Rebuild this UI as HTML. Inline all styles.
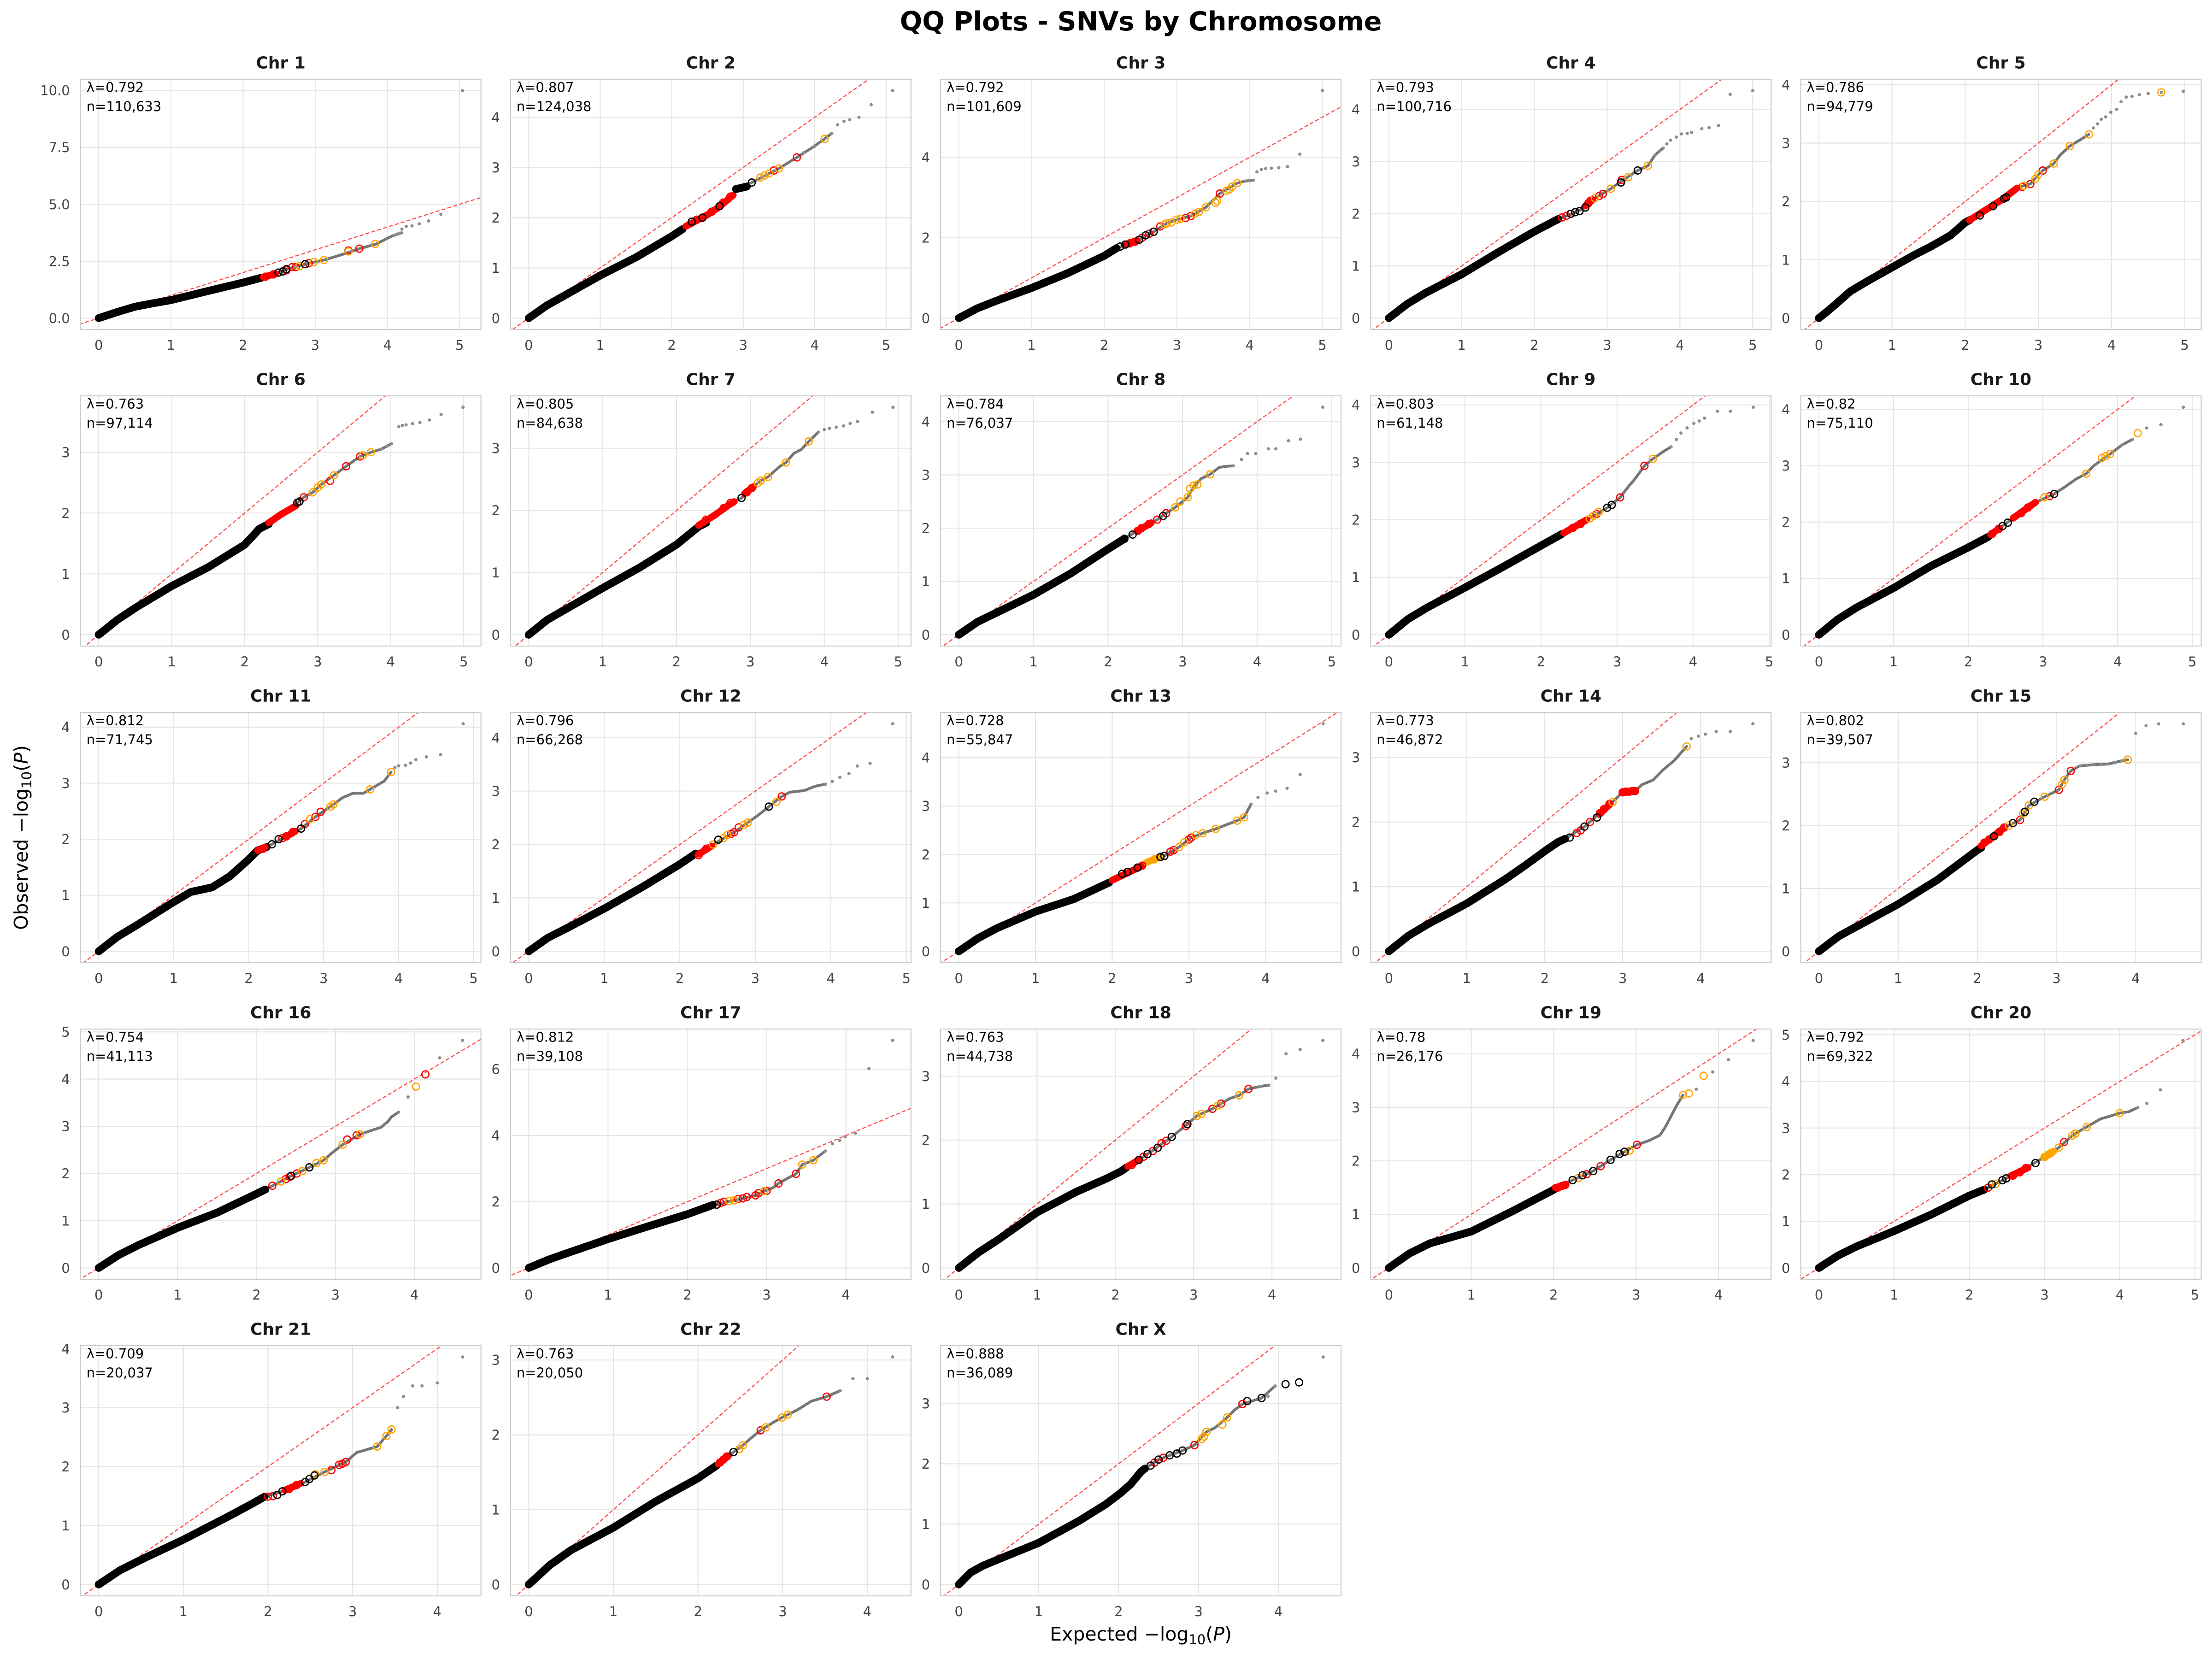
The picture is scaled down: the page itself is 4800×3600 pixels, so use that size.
<!DOCTYPE html>
<html><head><meta charset="utf-8"><style>
html,body{margin:0;padding:0;background:#fff}
svg{display:block}
text{font-family:"DejaVu Sans","Liberation Sans",sans-serif}
.t{font-size:36px;font-weight:bold;fill:#1a1a1a;text-anchor:middle}
.l{font-size:29px;fill:#000}
.xt{font-size:29px;fill:#444;text-anchor:middle}
.yt{font-size:29px;fill:#444;text-anchor:end}
.gl{stroke:#e6e6e6;stroke-width:2.2;fill:none}
.sp{fill:none;stroke:#cccccc;stroke-width:2.2}
.dg{stroke:#ff4d4d;stroke-width:2.4;stroke-dasharray:8.5 4.8;fill:none}
.b{fill:none;stroke:#000;stroke-width:17px;stroke-linecap:round;stroke-linejoin:round;vector-effect:non-scaling-stroke}
.rb{fill:none;stroke:#f00;stroke-width:15px;stroke-linecap:round;stroke-linejoin:round;vector-effect:non-scaling-stroke}
.ob{fill:none;stroke:#ffa500;stroke-width:15px;stroke-linecap:round;stroke-linejoin:round;vector-effect:non-scaling-stroke}
.gp{fill:none;stroke:#767676;stroke-width:6px;stroke-linecap:round;stroke-linejoin:round;vector-effect:non-scaling-stroke}
.gd{fill:none;stroke:#8e8e8e;stroke-width:7px;stroke-linecap:round;vector-effect:non-scaling-stroke}
ellipse{fill:none;stroke-width:2.7px;vector-effect:non-scaling-stroke}
.R{stroke:#f00}.O{stroke:#ffa500}.K{stroke:#000}
</style></head><body>
<svg width="4800" height="3600" viewBox="0 0 4800 3600" xmlns="http://www.w3.org/2000/svg" xmlns:xlink="http://www.w3.org/1999/xlink">
<defs>
<clipPath id="ax"><rect x="0" y="0" width="869" height="543"/></clipPath>
<ellipse id="r1" rx=".0492" ry=".1558"/>
<ellipse id="r2" rx=".0496" ry=".0707"/>
<ellipse id="r3" rx=".0488" ry=".0883"/>
<ellipse id="r4" rx=".0488" ry=".0680"/>
<ellipse id="r5" rx=".0485" ry=".0608"/>
<ellipse id="r6" rx=".0486" ry=".0583"/>
<ellipse id="r7" rx=".0480" ry=".0571"/>
<ellipse id="r8" rx=".0476" ry=".0666"/>
<ellipse id="r9" rx=".0467" ry=".0618"/>
<ellipse id="r10" rx=".0475" ry=".0630"/>
<ellipse id="r11" rx=".0473" ry=".0633"/>
<ellipse id="r12" rx=".0470" ry=".0664"/>
<ellipse id="r13" rx=".0463" ry=".0733"/>
<ellipse id="r14" rx=".0455" ry=".0549"/>
<ellipse id="r15" rx=".0448" ry=".0565"/>
<ellipse id="r16" rx=".0450" ry=".0752"/>
<ellipse id="r17" rx=".0448" ry=".1072"/>
<ellipse id="r18" rx=".0453" ry=".0555"/>
<ellipse id="r19" rx=".0431" ry=".0663"/>
<ellipse id="r20" rx=".0472" ry=".0761"/>
<ellipse id="r21" rx=".0419" ry=".0602"/>
<ellipse id="r22" rx=".0419" ry=".0474"/>
<ellipse id="r23" rx=".0444" ry=".0588"/>
</defs>
<rect width="4800" height="3600" fill="#fff"/>

<text x="2475.6" y="66" font-size="57" font-weight="bold" text-anchor="middle" fill="#000">QQ Plots - SNVs by Chromosome</text>
<text transform="translate(60,1817.5) rotate(-90)" font-size="41" text-anchor="middle" fill="#000">Observed −log<tspan font-size="29" dy="8">10</tspan><tspan dy="-8">(</tspan><tspan font-style="italic">P</tspan>)</text>
<text x="2475.6" y="3560" font-size="41" text-anchor="middle" fill="#000">Expected −log<tspan font-size="29" dy="8">10</tspan><tspan dy="-8">(</tspan><tspan font-style="italic">P</tspan>)</text>

<!-- Chr 1 -->
<g transform="translate(174.7,172)">
<path class="gl" d="M39.5 0V543M196.1 0V543M352.7 0V543M509.4 0V543M666 0V543M822.6 0V543M0 518.3H869M0 394.8H869M0 271.3H869M0 147.7H869M0 24.2H869"/>
<g clip-path="url(#ax)">
<line class="dg" x1="-117.1" y1="567.7" x2="1918.9" y2="-74.6"/>
<g transform="translate(39.5 518.32) scale(156.62 -49.41)">
<polyline class="gp" points="2.26,1.78 2.5,2.02 2.7,2.24 2.9,2.4 3.12,2.55 3.44,2.86 3.61,3.05 3.84,3.25 4.06,3.6 4.2,3.75"/>
<polyline class="b" points="0,0 0.25,0.26 0.5,0.5 0.75,0.65 1,0.79 1.5,1.18 2,1.56 2.26,1.78"/>
<polyline class="rb" points="2.28,1.8 2.45,1.95"/>
<path class="gd" d="M4.1 3.65h.001M4.14 3.7h.001M4.18 3.73h.001M4.2 3.91h.001M4.26 4.03h.001M4.34 4.05h.001M4.44 4.14h.001M4.57 4.27h.001M4.74 4.56h.001M5.04 9.99h.001"/>
<g class="R"><use href="#r1" x="2.31" y="1.82"/><use href="#r1" x="2.42" y="1.92"/><use href="#r1" x="2.6" y="2.1"/><use href="#r1" x="2.68" y="2.24"/><use href="#r1" x="2.73" y="2.24"/><use href="#r1" x="2.91" y="2.41"/><use href="#r1" x="3.46" y="2.97"/><use href="#r1" x="3.61" y="3.05"/></g>
<g class="O"><use href="#r1" x="2.78" y="2.28"/><use href="#r1" x="2.98" y="2.46"/><use href="#r1" x="3.12" y="2.55"/><use href="#r1" x="3.46" y="2.93"/><use href="#r1" x="3.83" y="3.26"/></g>
<g class="K"><use href="#r1" x="2.49" y="2.0"/><use href="#r1" x="2.55" y="2.05"/><use href="#r1" x="2.6" y="2.15"/><use href="#r1" x="2.86" y="2.37"/></g>
</g></g>
<rect class="sp" width="869" height="543"/>
<text class="t" x="434.5" y="-23.5">Chr 1</text>
<text class="l" x="13" y="27.5">λ=0.792</text><text class="l" x="13" y="69">n=110,633</text>
<text class="xt" y="587"><tspan x="39.5">0</tspan><tspan x="196.1">1</tspan><tspan x="352.7">2</tspan><tspan x="509.4">3</tspan><tspan x="666">4</tspan><tspan x="822.6">5</tspan></text>
<text class="yt"><tspan x="-23" y="528.8">0.0</tspan><tspan x="-23" y="405.3">2.5</tspan><tspan x="-23" y="281.8">5.0</tspan><tspan x="-23" y="158.2">7.5</tspan><tspan x="-23" y="34.7">10.0</tspan></text>
</g>

<!-- Chr 2 -->
<g transform="translate(1107.9,172)">
<path class="gl" d="M39.5 0V543M194.6 0V543M349.7 0V543M504.8 0V543M659.9 0V543M815 0V543M0 518.3H869M0 409.4H869M0 300.4H869M0 191.4H869M0 82.4H869"/>
<g clip-path="url(#ax)">
<line class="dg" x1="-115.6" y1="627.3" x2="1900.7" y2="-789.3"/>
<g transform="translate(39.5 518.32) scale(155.10 -108.97)">
<polyline class="gp" points="2.15,1.77 2.43,2.0 2.67,2.23 2.82,2.42 2.95,2.6 3.12,2.7 3.5,2.98 3.75,3.2 3.95,3.38 4.14,3.57 4.24,3.68"/>
<polyline class="b" points="0,0 0.25,0.25 0.5,0.45 1,0.85 1.5,1.21 2,1.63 2.15,1.77"/>
<polyline class="rb" points="2.2,1.83 2.5,2.06 2.65,2.2 2.86,2.45"/>
<polyline class="b" points="2.9,2.57 3.05,2.62"/>
<path class="gd" d="M3.85 3.3h.001M4.0 3.42h.001M4.24 3.68h.001M4.32 3.85h.001M4.41 3.92h.001M4.49 3.95h.001M4.62 4.0h.001M4.79 4.25h.001M5.09 4.53h.001"/>
<g class="R"><use href="#r2" x="2.35" y="1.96"/><use href="#r2" x="2.56" y="2.12"/><use href="#r2" x="2.72" y="2.3"/><use href="#r2" x="2.82" y="2.42"/><use href="#r2" x="3.43" y="2.94"/><use href="#r2" x="3.75" y="3.2"/></g>
<g class="O"><use href="#r2" x="3.24" y="2.8"/><use href="#r2" x="3.3" y="2.84"/><use href="#r2" x="3.36" y="2.88"/><use href="#r2" x="3.5" y="2.98"/><use href="#r2" x="4.14" y="3.57"/></g>
<g class="K"><use href="#r2" x="2.28" y="1.92"/><use href="#r2" x="2.43" y="2.0"/><use href="#r2" x="2.67" y="2.23"/><use href="#r2" x="3.12" y="2.7"/></g>
</g></g>
<rect class="sp" width="869" height="543"/>
<text class="t" x="434.5" y="-23.5">Chr 2</text>
<text class="l" x="13" y="27.5">λ=0.807</text><text class="l" x="13" y="69">n=124,038</text>
<text class="xt" y="587"><tspan x="39.5">0</tspan><tspan x="194.6">1</tspan><tspan x="349.7">2</tspan><tspan x="504.8">3</tspan><tspan x="659.9">4</tspan><tspan x="815">5</tspan></text>
<text class="yt"><tspan x="-23" y="528.8">0</tspan><tspan x="-23" y="419.9">1</tspan><tspan x="-23" y="310.9">2</tspan><tspan x="-23" y="201.9">3</tspan><tspan x="-23" y="92.9">4</tspan></text>
</g>

<!-- Chr 3 -->
<g transform="translate(2041.1,172)">
<path class="gl" d="M39.5 0V543M197.3 0V543M355.1 0V543M512.8 0V543M670.6 0V543M828.4 0V543M0 518.3H869M0 343.9H869M0 169.4H869"/>
<g clip-path="url(#ax)">
<line class="dg" x1="-118.3" y1="605.5" x2="1932.9" y2="-528.3"/>
<g transform="translate(39.5 518.32) scale(157.78 -87.22)">
<polyline class="gp" points="2.17,1.74 2.42,1.9 2.68,2.15 2.86,2.36 3.0,2.45 3.19,2.54 3.4,2.76 3.59,3.1 3.83,3.36 3.94,3.41 4.05,3.43"/>
<polyline class="b" points="0,0 0.25,0.24 0.5,0.42 1,0.75 1.5,1.12 2,1.55 2.17,1.74"/>
<polyline class="rb" points="2.3,1.84 2.45,1.93"/>
<path class="gd" d="M3.94 3.41h.001M4.0 3.42h.001M4.05 3.43h.001M4.1 3.64h.001M4.16 3.7h.001M4.22 3.72h.001M4.3 3.73h.001M4.4 3.74h.001M4.52 3.77h.001M4.69 4.08h.001M5.0 5.66h.001"/>
<g class="R"><use href="#r3" x="2.35" y="1.86"/><use href="#r3" x="2.42" y="1.9"/><use href="#r3" x="2.52" y="2.0"/><use href="#r3" x="2.62" y="2.1"/><use href="#r3" x="2.77" y="2.28"/><use href="#r3" x="3.12" y="2.49"/><use href="#r3" x="3.19" y="2.54"/><use href="#r3" x="3.59" y="3.1"/></g>
<g class="O"><use href="#r3" x="2.83" y="2.33"/><use href="#r3" x="2.86" y="2.36"/><use href="#r3" x="2.92" y="2.38"/><use href="#r3" x="3.0" y="2.45"/><use href="#r3" x="3.05" y="2.47"/><use href="#r3" x="3.25" y="2.6"/><use href="#r3" x="3.3" y="2.64"/><use href="#r3" x="3.4" y="2.76"/><use href="#r3" x="3.53" y="2.87"/><use href="#r3" x="3.55" y="2.92"/><use href="#r3" x="3.68" y="3.17"/><use href="#r3" x="3.72" y="3.2"/><use href="#r3" x="3.76" y="3.27"/><use href="#r3" x="3.83" y="3.36"/></g>
<g class="K"><use href="#r3" x="2.22" y="1.78"/><use href="#r3" x="2.29" y="1.83"/><use href="#r3" x="2.48" y="1.95"/><use href="#r3" x="2.57" y="2.06"/><use href="#r3" x="2.68" y="2.15"/></g>
</g></g>
<rect class="sp" width="869" height="543"/>
<text class="t" x="434.5" y="-23.5">Chr 3</text>
<text class="l" x="13" y="27.5">λ=0.792</text><text class="l" x="13" y="69">n=101,609</text>
<text class="xt" y="587"><tspan x="39.5">0</tspan><tspan x="197.3">1</tspan><tspan x="355.1">2</tspan><tspan x="512.8">3</tspan><tspan x="670.6">4</tspan><tspan x="828.4">5</tspan></text>
<text class="yt"><tspan x="-23" y="528.8">0</tspan><tspan x="-23" y="354.4">2</tspan><tspan x="-23" y="179.9">4</tspan></text>
</g>

<!-- Chr 4 -->
<g transform="translate(2974.3,172)">
<path class="gl" d="M39.5 0V543M197.4 0V543M355.3 0V543M513.2 0V543M671.1 0V543M829 0V543M0 518.3H869M0 405.1H869M0 291.9H869M0 178.7H869M0 65.4H869"/>
<g clip-path="url(#ax)">
<line class="dg" x1="-118.4" y1="631.5" x2="1934.3" y2="-840.3"/>
<g transform="translate(39.5 518.32) scale(157.90 -113.22)">
<polyline class="gp" points="2.33,1.9 2.52,2.0 2.7,2.12 2.77,2.25 3.05,2.48 3.19,2.62 3.42,2.83 3.56,2.92 3.66,3.13 3.77,3.26"/>
<polyline class="b" points="0,0 0.25,0.27 0.5,0.48 1,0.84 1.5,1.26 2,1.66 2.33,1.9"/>
<polyline class="rb" points="2.7,2.15 2.8,2.27"/>
<path class="gd" d="M3.66 3.13h.001M3.72 3.2h.001M3.77 3.26h.001M3.82 3.34h.001M3.87 3.41h.001M3.95 3.47h.001M4.02 3.53h.001M4.1 3.54h.001M4.16 3.56h.001M4.3 3.63h.001M4.4 3.65h.001M4.53 3.69h.001M4.69 4.29h.001M5.0 4.36h.001"/>
<g class="R"><use href="#r4" x="2.38" y="1.93"/><use href="#r4" x="2.44" y="1.96"/><use href="#r4" x="2.74" y="2.2"/><use href="#r4" x="2.77" y="2.25"/><use href="#r4" x="2.89" y="2.34"/><use href="#r4" x="2.94" y="2.38"/><use href="#r4" x="3.2" y="2.65"/></g>
<g class="O"><use href="#r4" x="2.83" y="2.3"/><use href="#r4" x="3.05" y="2.48"/><use href="#r4" x="3.29" y="2.7"/><use href="#r4" x="3.56" y="2.92"/></g>
<g class="K"><use href="#r4" x="2.5" y="2.0"/><use href="#r4" x="2.56" y="2.03"/><use href="#r4" x="2.62" y="2.05"/><use href="#r4" x="2.7" y="2.12"/><use href="#r4" x="3.19" y="2.6"/><use href="#r4" x="3.42" y="2.83"/></g>
</g></g>
<rect class="sp" width="869" height="543"/>
<text class="t" x="434.5" y="-23.5">Chr 4</text>
<text class="l" x="13" y="27.5">λ=0.793</text><text class="l" x="13" y="69">n=100,716</text>
<text class="xt" y="587"><tspan x="39.5">0</tspan><tspan x="197.4">1</tspan><tspan x="355.3">2</tspan><tspan x="513.2">3</tspan><tspan x="671.1">4</tspan><tspan x="829">5</tspan></text>
<text class="yt"><tspan x="-23" y="528.8">0</tspan><tspan x="-23" y="415.6">1</tspan><tspan x="-23" y="302.4">2</tspan><tspan x="-23" y="189.2">3</tspan><tspan x="-23" y="75.9">4</tspan></text>
</g>

<!-- Chr 5 -->
<g transform="translate(3907.5,172)">
<path class="gl" d="M39.5 0V543M198.2 0V543M357 0V543M515.7 0V543M674.5 0V543M833.2 0V543M0 518.3H869M0 391.8H869M0 265.2H869M0 138.6H869M0 12H869"/>
<g clip-path="url(#ax)">
<line class="dg" x1="-119.2" y1="644.9" x2="1944.4" y2="-1000.5"/>
<g transform="translate(39.5 518.32) scale(158.74 -126.57)">
<polyline class="gp" points="2.06,1.68 2.71,2.24 2.89,2.3 3.0,2.46 3.06,2.53 3.21,2.65 3.3,2.8 3.43,2.95 3.55,3.04 3.69,3.15"/>
<polyline class="b" points="0,0 0.1,0.1 0.25,0.26 0.43,0.46 0.7,0.66 1,0.87 1.3,1.08 1.52,1.22 1.8,1.42 2,1.64 2.06,1.68"/>
<polyline class="rb" points="2.06,1.68 2.3,1.87 2.5,2.03 2.71,2.23"/>
<path class="gd" d="M3.75 3.26h.001M3.81 3.33h.001M3.86 3.41h.001M3.92 3.45h.001M3.99 3.53h.001M4.07 3.58h.001M4.13 3.71h.001M4.2 3.79h.001M4.28 3.8h.001M4.38 3.83h.001M4.5 3.85h.001M4.68 3.87h.001M4.98 3.89h.001"/>
<g class="R"><use href="#r5" x="2.78" y="2.25"/><use href="#r5" x="2.89" y="2.3"/><use href="#r5" x="3.06" y="2.53"/></g>
<g class="O"><use href="#r5" x="2.8" y="2.27"/><use href="#r5" x="2.96" y="2.39"/><use href="#r5" x="3.0" y="2.46"/><use href="#r5" x="3.21" y="2.65"/><use href="#r5" x="3.43" y="2.95"/><use href="#r5" x="3.69" y="3.15"/><use href="#r5" x="4.68" y="3.87"/></g>
<g class="K"><use href="#r5" x="2.2" y="1.76"/><use href="#r5" x="2.38" y="1.92"/><use href="#r5" x="2.53" y="2.05"/><use href="#r5" x="2.56" y="2.07"/></g>
</g></g>
<rect class="sp" width="869" height="543"/>
<text class="t" x="434.5" y="-23.5">Chr 5</text>
<text class="l" x="13" y="27.5">λ=0.786</text><text class="l" x="13" y="69">n=94,779</text>
<text class="xt" y="587"><tspan x="39.5">0</tspan><tspan x="198.2">1</tspan><tspan x="357">2</tspan><tspan x="515.7">3</tspan><tspan x="674.5">4</tspan><tspan x="833.2">5</tspan></text>
<text class="yt"><tspan x="-23" y="528.8">0</tspan><tspan x="-23" y="402.3">1</tspan><tspan x="-23" y="275.7">2</tspan><tspan x="-23" y="149.1">3</tspan><tspan x="-23" y="22.5">4</tspan></text>
</g>

<!-- Chr 6 -->
<g transform="translate(174.7,859)">
<path class="gl" d="M39.5 0V543M197.9 0V543M356.3 0V543M514.7 0V543M673.1 0V543M831.5 0V543M0 518.3H869M0 386.3H869M0 254.3H869M0 122.4H869"/>
<g clip-path="url(#ax)">
<line class="dg" x1="-118.9" y1="650.3" x2="1940.3" y2="-1065.6"/>
<g transform="translate(39.5 518.32) scale(158.40 -131.99)">
<polyline class="gp" points="2.33,1.82 2.6,2.05 2.81,2.26 2.93,2.34 3.05,2.47 3.22,2.62 3.39,2.77 3.58,2.93 3.73,3.0 3.87,3.05 4.01,3.14"/>
<polyline class="b" points="0,0 0.25,0.24 0.5,0.44 1,0.8 1.5,1.11 2,1.48 2.2,1.74 2.33,1.82"/>
<polyline class="rb" points="2.33,1.84 2.5,1.98 2.7,2.12"/>
<path class="gd" d="M3.87 3.05h.001M3.95 3.1h.001M4.01 3.14h.001M4.11 3.42h.001M4.16 3.44h.001M4.21 3.45h.001M4.3 3.47h.001M4.4 3.49h.001M4.53 3.53h.001M4.69 3.62h.001M4.99 3.74h.001"/>
<g class="R"><use href="#r6" x="2.81" y="2.26"/><use href="#r6" x="3.17" y="2.53"/><use href="#r6" x="3.39" y="2.77"/><use href="#r6" x="3.58" y="2.93"/></g>
<g class="O"><use href="#r6" x="2.93" y="2.34"/><use href="#r6" x="3.0" y="2.42"/><use href="#r6" x="3.05" y="2.47"/><use href="#r6" x="3.22" y="2.62"/><use href="#r6" x="3.62" y="2.95"/><use href="#r6" x="3.73" y="3.0"/></g>
<g class="K"><use href="#r6" x="2.72" y="2.17"/><use href="#r6" x="2.75" y="2.19"/></g>
</g></g>
<rect class="sp" width="869" height="543"/>
<text class="t" x="434.5" y="-23.5">Chr 6</text>
<text class="l" x="13" y="27.5">λ=0.763</text><text class="l" x="13" y="69">n=97,114</text>
<text class="xt" y="587"><tspan x="39.5">0</tspan><tspan x="197.9">1</tspan><tspan x="356.3">2</tspan><tspan x="514.7">3</tspan><tspan x="673.1">4</tspan><tspan x="831.5">5</tspan></text>
<text class="yt"><tspan x="-23" y="528.8">0</tspan><tspan x="-23" y="396.8">1</tspan><tspan x="-23" y="264.8">2</tspan><tspan x="-23" y="132.9">3</tspan></text>
</g>

<!-- Chr 7 -->
<g transform="translate(1107.9,859)">
<path class="gl" d="M39.5 0V543M199.8 0V543M360.1 0V543M520.5 0V543M680.8 0V543M841.1 0V543M0 518.3H869M0 383.5H869M0 248.6H869M0 113.7H869"/>
<g clip-path="url(#ax)">
<line class="dg" x1="-120.8" y1="653.2" x2="1963.3" y2="-1100.1"/>
<g transform="translate(39.5 518.32) scale(160.32 -134.87)">
<polyline class="gp" points="2.4,1.8 2.64,2.04 2.88,2.2 3.02,2.36 3.14,2.48 3.24,2.54 3.4,2.71 3.48,2.77 3.59,2.92 3.69,2.98 3.79,3.11 3.92,3.26"/>
<polyline class="b" points="0,0 0.25,0.24 0.5,0.41 1,0.75 1.5,1.08 2,1.45 2.3,1.74 2.4,1.8"/>
<polyline class="rb" points="2.3,1.76 2.5,1.91 2.7,2.08 2.78,2.14"/>
<polyline class="rb" points="2.92,2.27 3.04,2.38"/>
<path class="gd" d="M3.92 3.26h.001M4.0 3.3h.001M4.07 3.32h.001M4.16 3.34h.001M4.26 3.36h.001M4.35 3.4h.001M4.45 3.43h.001M4.65 3.58h.001M4.93 3.66h.001"/>
<g class="R"><use href="#r7" x="2.4" y="1.85"/><use href="#r7" x="2.64" y="2.04"/><use href="#r7" x="2.73" y="2.12"/><use href="#r7" x="2.95" y="2.29"/><use href="#r7" x="3.02" y="2.36"/></g>
<g class="O"><use href="#r7" x="3.1" y="2.44"/><use href="#r7" x="3.14" y="2.48"/><use href="#r7" x="3.24" y="2.54"/><use href="#r7" x="3.48" y="2.77"/><use href="#r7" x="3.79" y="3.11"/></g>
<g class="K"><use href="#r7" x="2.88" y="2.2"/></g>
</g></g>
<rect class="sp" width="869" height="543"/>
<text class="t" x="434.5" y="-23.5">Chr 7</text>
<text class="l" x="13" y="27.5">λ=0.805</text><text class="l" x="13" y="69">n=84,638</text>
<text class="xt" y="587"><tspan x="39.5">0</tspan><tspan x="199.8">1</tspan><tspan x="360.1">2</tspan><tspan x="520.5">3</tspan><tspan x="680.8">4</tspan><tspan x="841.1">5</tspan></text>
<text class="yt"><tspan x="-23" y="528.8">0</tspan><tspan x="-23" y="394">1</tspan><tspan x="-23" y="259.1">2</tspan><tspan x="-23" y="124.2">3</tspan></text>
</g>

<!-- Chr 8 -->
<g transform="translate(2041.1,859)">
<path class="gl" d="M39.5 0V543M201.4 0V543M363.2 0V543M525.1 0V543M686.9 0V543M848.8 0V543M0 518.3H869M0 402.7H869M0 287.1H869M0 171.5H869M0 55.9H869"/>
<g clip-path="url(#ax)">
<line class="dg" x1="-122.4" y1="633.9" x2="1981.7" y2="-869"/>
<g transform="translate(39.5 518.32) scale(161.85 -115.61)">
<polyline class="gp" points="2.22,1.8 2.45,2.0 2.66,2.16 2.78,2.28 2.9,2.39 3.07,2.58 3.15,2.78 3.25,2.93 3.37,3.01 3.49,3.14 3.58,3.16 3.68,3.17"/>
<polyline class="b" points="0,0 0.25,0.24 0.5,0.41 1,0.75 1.5,1.15 1.98,1.59 2.22,1.8"/>
<polyline class="rb" points="2.4,1.95 2.58,2.1"/>
<path class="gd" d="M3.68 3.17h.001M3.79 3.29h.001M3.87 3.4h.001M3.98 3.4h.001M4.15 3.49h.001M4.25 3.49h.001M4.42 3.64h.001M4.58 3.67h.001M4.88 4.27h.001"/>
<g class="R"><use href="#r8" x="2.4" y="1.95"/><use href="#r8" x="2.45" y="2.0"/><use href="#r8" x="2.55" y="2.08"/><use href="#r8" x="2.66" y="2.16"/><use href="#r8" x="2.78" y="2.28"/></g>
<g class="O"><use href="#r8" x="2.9" y="2.39"/><use href="#r8" x="2.97" y="2.5"/><use href="#r8" x="3.07" y="2.58"/><use href="#r8" x="3.1" y="2.74"/><use href="#r8" x="3.15" y="2.8"/><use href="#r8" x="3.2" y="2.82"/><use href="#r8" x="3.37" y="3.01"/></g>
<g class="K"><use href="#r8" x="2.22" y="1.8"/><use href="#r8" x="2.33" y="1.88"/><use href="#r8" x="2.74" y="2.23"/></g>
</g></g>
<rect class="sp" width="869" height="543"/>
<text class="t" x="434.5" y="-23.5">Chr 8</text>
<text class="l" x="13" y="27.5">λ=0.784</text><text class="l" x="13" y="69">n=76,037</text>
<text class="xt" y="587"><tspan x="39.5">0</tspan><tspan x="201.4">1</tspan><tspan x="363.2">2</tspan><tspan x="525.1">3</tspan><tspan x="686.9">4</tspan><tspan x="848.8">5</tspan></text>
<text class="yt"><tspan x="-23" y="528.8">0</tspan><tspan x="-23" y="413.2">1</tspan><tspan x="-23" y="297.6">2</tspan><tspan x="-23" y="182">3</tspan><tspan x="-23" y="66.4">4</tspan></text>
</g>

<!-- Chr 9 -->
<g transform="translate(2974.3,859)">
<path class="gl" d="M39.5 0V543M204.6 0V543M369.6 0V543M534.7 0V543M699.7 0V543M864.8 0V543M0 518.3H869M0 393.7H869M0 269H869M0 144.3H869M0 19.7H869"/>
<g clip-path="url(#ax)">
<line class="dg" x1="-125.6" y1="643" x2="2020.1" y2="-977.6"/>
<g transform="translate(39.5 518.32) scale(165.05 -124.66)">
<polyline class="gp" points="2.27,1.75 2.58,1.98 2.87,2.21 3.04,2.39 3.15,2.58 3.24,2.72 3.36,2.94 3.47,3.06 3.61,3.19 3.71,3.27"/>
<polyline class="b" points="0,0 0.25,0.27 0.5,0.47 1,0.82 1.5,1.18 2,1.55 2.27,1.75"/>
<polyline class="rb" points="2.3,1.77 2.6,2.0"/>
<path class="gd" d="M3.71 3.27h.001M3.78 3.4h.001M3.84 3.51h.001M3.92 3.6h.001M4.01 3.68h.001M4.08 3.72h.001M4.15 3.77h.001M4.32 3.89h.001M4.49 3.89h.001M4.79 3.96h.001"/>
<g class="R"><use href="#r9" x="2.42" y="1.86"/><use href="#r9" x="2.52" y="1.93"/><use href="#r9" x="2.73" y="2.1"/><use href="#r9" x="3.04" y="2.39"/><use href="#r9" x="3.36" y="2.94"/></g>
<g class="O"><use href="#r9" x="2.64" y="2.02"/><use href="#r9" x="2.69" y="2.07"/><use href="#r9" x="2.76" y="2.14"/><use href="#r9" x="3.47" y="3.06"/></g>
<g class="K"><use href="#r9" x="2.87" y="2.21"/><use href="#r9" x="2.93" y="2.26"/></g>
</g></g>
<rect class="sp" width="869" height="543"/>
<text class="t" x="434.5" y="-23.5">Chr 9</text>
<text class="l" x="13" y="27.5">λ=0.803</text><text class="l" x="13" y="69">n=61,148</text>
<text class="xt" y="587"><tspan x="39.5">0</tspan><tspan x="204.6">1</tspan><tspan x="369.6">2</tspan><tspan x="534.7">3</tspan><tspan x="699.7">4</tspan><tspan x="864.8">5</tspan></text>
<text class="yt"><tspan x="-23" y="528.8">0</tspan><tspan x="-23" y="404.2">1</tspan><tspan x="-23" y="279.5">2</tspan><tspan x="-23" y="154.8">3</tspan><tspan x="-23" y="30.2">4</tspan></text>
</g>

<!-- Chr 10 -->
<g transform="translate(3907.5,859)">
<path class="gl" d="M39.5 0V543M201.5 0V543M363.6 0V543M525.6 0V543M687.6 0V543M849.7 0V543M0 518.3H869M0 396.1H869M0 273.9H869M0 151.7H869M0 29.6H869"/>
<g clip-path="url(#ax)">
<line class="dg" x1="-122.5" y1="640.5" x2="1983.9" y2="-948"/>
<g transform="translate(39.5 518.32) scale(162.03 -122.19)">
<polyline class="gp" points="2.27,1.74 2.46,1.93 2.6,2.07 2.9,2.35 3.15,2.5 3.3,2.63 3.45,2.77 3.58,2.86 3.68,3.0 3.9,3.21 4.06,3.37 4.2,3.47"/>
<polyline class="b" points="0,0 0.25,0.27 0.5,0.48 1,0.83 1.5,1.22 2,1.55 2.27,1.74"/>
<polyline class="rb" points="2.3,1.78 2.42,1.89"/>
<polyline class="rb" points="2.6,2.07 2.9,2.35"/>
<path class="gd" d="M4.06 3.37h.001M4.2 3.47h.001M4.39 3.67h.001M4.58 3.73h.001M4.88 4.04h.001"/>
<g class="R"><use href="#r10" x="2.32" y="1.79"/><use href="#r10" x="2.41" y="1.88"/><use href="#r10" x="2.71" y="2.16"/><use href="#r10" x="2.8" y="2.26"/><use href="#r10" x="3.09" y="2.46"/></g>
<g class="O"><use href="#r10" x="3.02" y="2.44"/><use href="#r10" x="3.58" y="2.86"/><use href="#r10" x="3.79" y="3.14"/><use href="#r10" x="3.84" y="3.17"/><use href="#r10" x="3.9" y="3.21"/><use href="#r10" x="4.27" y="3.58"/></g>
<g class="K"><use href="#r10" x="2.46" y="1.93"/><use href="#r10" x="2.53" y="1.99"/><use href="#r10" x="3.15" y="2.5"/></g>
</g></g>
<rect class="sp" width="869" height="543"/>
<text class="t" x="434.5" y="-23.5">Chr 10</text>
<text class="l" x="13" y="27.5">λ=0.82</text><text class="l" x="13" y="69">n=75,110</text>
<text class="xt" y="587"><tspan x="39.5">0</tspan><tspan x="201.5">1</tspan><tspan x="363.6">2</tspan><tspan x="525.6">3</tspan><tspan x="687.6">4</tspan><tspan x="849.7">5</tspan></text>
<text class="yt"><tspan x="-23" y="528.8">0</tspan><tspan x="-23" y="406.6">1</tspan><tspan x="-23" y="284.4">2</tspan><tspan x="-23" y="162.2">3</tspan><tspan x="-23" y="40.1">4</tspan></text>
</g>

<!-- Chr 11 -->
<g transform="translate(174.7,1546)">
<path class="gl" d="M39.5 0V543M202.2 0V543M364.9 0V543M527.6 0V543M690.3 0V543M852.9 0V543M0 518.3H869M0 396.7H869M0 275.1H869M0 153.5H869M0 31.9H869"/>
<g clip-path="url(#ax)">
<line class="dg" x1="-123.2" y1="639.9" x2="1991.8" y2="-940.8"/>
<g transform="translate(39.5 518.32) scale(162.69 -121.59)">
<polyline class="gp" points="2.24,1.86 2.5,2.05 2.7,2.19 2.89,2.4 3.13,2.62 3.25,2.74 3.39,2.82 3.53,2.82 3.62,2.89 3.81,3.04 3.9,3.2"/>
<polyline class="b" points="0,0 0.25,0.26 0.5,0.46 1,0.88 1.23,1.06 1.51,1.14 1.75,1.34 2,1.64 2.12,1.8 2.24,1.86"/>
<polyline class="rb" points="2.12,1.8 2.22,1.86"/>
<polyline class="rb" points="2.5,2.05 2.62,2.14"/>
<path class="gd" d="M3.95 3.28h.001M4.0 3.31h.001M4.09 3.32h.001M4.16 3.36h.001M4.23 3.42h.001M4.37 3.47h.001M4.56 3.51h.001M4.86 4.06h.001"/>
<g class="R"><use href="#r11" x="2.19" y="1.83"/><use href="#r11" x="2.45" y="2.02"/><use href="#r11" x="2.5" y="2.05"/><use href="#r11" x="2.59" y="2.13"/><use href="#r11" x="2.75" y="2.27"/><use href="#r11" x="2.89" y="2.4"/><use href="#r11" x="2.96" y="2.49"/></g>
<g class="O"><use href="#r11" x="2.82" y="2.36"/><use href="#r11" x="3.09" y="2.58"/><use href="#r11" x="3.13" y="2.62"/><use href="#r11" x="3.62" y="2.89"/><use href="#r11" x="3.9" y="3.2"/></g>
<g class="K"><use href="#r11" x="2.31" y="1.91"/><use href="#r11" x="2.4" y="2.0"/><use href="#r11" x="2.7" y="2.19"/></g>
</g></g>
<rect class="sp" width="869" height="543"/>
<text class="t" x="434.5" y="-23.5">Chr 11</text>
<text class="l" x="13" y="27.5">λ=0.812</text><text class="l" x="13" y="69">n=71,745</text>
<text class="xt" y="587"><tspan x="39.5">0</tspan><tspan x="202.2">1</tspan><tspan x="364.9">2</tspan><tspan x="527.6">3</tspan><tspan x="690.3">4</tspan><tspan x="852.9">5</tspan></text>
<text class="yt"><tspan x="-23" y="528.8">0</tspan><tspan x="-23" y="407.2">1</tspan><tspan x="-23" y="285.6">2</tspan><tspan x="-23" y="164">3</tspan><tspan x="-23" y="42.4">4</tspan></text>
</g>

<!-- Chr 12 -->
<g transform="translate(1107.9,1546)">
<path class="gl" d="M39.5 0V543M203.4 0V543M367.2 0V543M531.1 0V543M694.9 0V543M858.8 0V543M0 518.3H869M0 402.4H869M0 286.6H869M0 170.7H869M0 54.8H869"/>
<g clip-path="url(#ax)">
<line class="dg" x1="-124.4" y1="634.2" x2="2005.8" y2="-872.2"/>
<g transform="translate(39.5 518.32) scale(163.86 -115.88)">
<polyline class="gp" points="2.21,1.83 2.44,2.0 2.72,2.23 2.9,2.41 3.04,2.55 3.18,2.71 3.35,2.9 3.46,2.98 3.65,3.01 3.79,3.09 3.93,3.13"/>
<polyline class="b" points="0,0 0.25,0.25 0.5,0.43 1,0.8 1.5,1.2 2,1.63 2.21,1.83"/>
<polyline class="rb" points="2.25,1.82 2.42,1.97"/>
<path class="gd" d="M3.93 3.13h.001M4.02 3.18h.001M4.12 3.26h.001M4.24 3.33h.001M4.35 3.47h.001M4.52 3.52h.001M4.82 4.26h.001"/>
<g class="R"><use href="#r12" x="2.25" y="1.8"/><use href="#r12" x="2.35" y="1.92"/><use href="#r12" x="2.68" y="2.2"/><use href="#r12" x="2.72" y="2.23"/><use href="#r12" x="2.78" y="2.32"/><use href="#r12" x="3.35" y="2.9"/></g>
<g class="O"><use href="#r12" x="2.44" y="2.0"/><use href="#r12" x="2.58" y="2.12"/><use href="#r12" x="2.63" y="2.18"/><use href="#r12" x="2.85" y="2.37"/><use href="#r12" x="2.9" y="2.41"/><use href="#r12" x="3.28" y="2.8"/></g>
<g class="K"><use href="#r12" x="2.51" y="2.09"/><use href="#r12" x="3.18" y="2.71"/></g>
</g></g>
<rect class="sp" width="869" height="543"/>
<text class="t" x="434.5" y="-23.5">Chr 12</text>
<text class="l" x="13" y="27.5">λ=0.796</text><text class="l" x="13" y="69">n=66,268</text>
<text class="xt" y="587"><tspan x="39.5">0</tspan><tspan x="203.4">1</tspan><tspan x="367.2">2</tspan><tspan x="531.1">3</tspan><tspan x="694.9">4</tspan><tspan x="858.8">5</tspan></text>
<text class="yt"><tspan x="-23" y="528.8">0</tspan><tspan x="-23" y="412.9">1</tspan><tspan x="-23" y="297.1">2</tspan><tspan x="-23" y="181.2">3</tspan><tspan x="-23" y="65.3">4</tspan></text>
</g>

<!-- Chr 13 -->
<g transform="translate(2041.1,1546)">
<path class="gl" d="M39.5 0V543M205.9 0V543M372.3 0V543M538.8 0V543M705.2 0V543M0 518.3H869M0 413.3H869M0 308.3H869M0 203.2H869M0 98.2H869"/>
<g clip-path="url(#ax)">
<line class="dg" x1="-126.9" y1="623.4" x2="2036.5" y2="-742"/>
<g transform="translate(39.5 518.32) scale(166.42 -105.03)">
<polyline class="gp" points="1.96,1.42 2.28,1.68 2.46,1.82 2.68,1.97 2.87,2.15 3.03,2.35 3.18,2.44 3.35,2.53 3.63,2.7 3.72,2.77 3.81,3.04"/>
<polyline class="b" points="0,0 0.25,0.27 0.5,0.48 1,0.82 1.5,1.08 1.96,1.42"/>
<polyline class="rb" points="2.0,1.47 2.4,1.77"/>
<polyline class="ob" points="2.45,1.84 2.62,1.95"/>
<path class="gd" d="M3.81 3.04h.001M3.9 3.18h.001M4.02 3.27h.001M4.13 3.31h.001M4.28 3.37h.001M4.45 3.65h.001M4.75 4.7h.001"/>
<g class="R"><use href="#r13" x="2.39" y="1.77"/><use href="#r13" x="2.76" y="2.06"/><use href="#r13" x="2.8" y="2.09"/><use href="#r13" x="3.0" y="2.31"/><use href="#r13" x="3.03" y="2.35"/></g>
<g class="O"><use href="#r13" x="2.55" y="1.9"/><use href="#r13" x="2.87" y="2.15"/><use href="#r13" x="2.94" y="2.25"/><use href="#r13" x="3.09" y="2.4"/><use href="#r13" x="3.18" y="2.44"/><use href="#r13" x="3.35" y="2.53"/><use href="#r13" x="3.63" y="2.7"/><use href="#r13" x="3.72" y="2.77"/></g>
<g class="K"><use href="#r13" x="2.13" y="1.6"/><use href="#r13" x="2.2" y="1.64"/><use href="#r13" x="2.33" y="1.73"/><use href="#r13" x="2.63" y="1.95"/><use href="#r13" x="2.68" y="1.97"/></g>
</g></g>
<rect class="sp" width="869" height="543"/>
<text class="t" x="434.5" y="-23.5">Chr 13</text>
<text class="l" x="13" y="27.5">λ=0.728</text><text class="l" x="13" y="69">n=55,847</text>
<text class="xt" y="587"><tspan x="39.5">0</tspan><tspan x="205.9">1</tspan><tspan x="372.3">2</tspan><tspan x="538.8">3</tspan><tspan x="705.2">4</tspan></text>
<text class="yt"><tspan x="-23" y="528.8">0</tspan><tspan x="-23" y="423.8">1</tspan><tspan x="-23" y="318.8">2</tspan><tspan x="-23" y="213.7">3</tspan><tspan x="-23" y="108.7">4</tspan></text>
</g>

<!-- Chr 14 -->
<g transform="translate(2974.3,1546)">
<path class="gl" d="M39.5 0V543M208.6 0V543M377.8 0V543M546.9 0V543M716 0V543M0 518.3H869M0 378.1H869M0 237.8H869M0 97.6H869"/>
<g clip-path="url(#ax)">
<line class="dg" x1="-129.6" y1="658.6" x2="2069.1" y2="-1164.6"/>
<g transform="translate(39.5 518.32) scale(169.13 -140.24)">
<polyline class="gp" points="2.26,1.74 2.51,1.93 2.71,2.14 2.87,2.31 3.0,2.46 3.16,2.48 3.25,2.58 3.39,2.65 3.52,2.81 3.66,2.95 3.82,3.17"/>
<polyline class="b" points="0,0 0.25,0.24 0.5,0.42 1,0.74 1.5,1.12 1.75,1.33 2,1.55 2.17,1.69 2.26,1.74"/>
<polyline class="rb" points="2.7,2.12 2.84,2.28"/>
<polyline class="rb" points="3.0,2.46 3.16,2.48"/>
<path class="gd" d="M3.88 3.29h.001M3.97 3.33h.001M4.06 3.36h.001M4.2 3.4h.001M4.38 3.4h.001M4.67 3.52h.001"/>
<g class="R"><use href="#r14" x="2.41" y="1.83"/><use href="#r14" x="2.46" y="1.87"/><use href="#r14" x="2.58" y="2.0"/><use href="#r14" x="2.71" y="2.14"/><use href="#r14" x="2.76" y="2.2"/><use href="#r14" x="2.83" y="2.28"/><use href="#r14" x="3.0" y="2.46"/><use href="#r14" x="3.04" y="2.47"/><use href="#r14" x="3.08" y="2.47"/><use href="#r14" x="3.12" y="2.48"/><use href="#r14" x="3.16" y="2.48"/></g>
<g class="O"><use href="#r14" x="2.87" y="2.31"/><use href="#r14" x="3.82" y="3.17"/></g>
<g class="K"><use href="#r14" x="2.32" y="1.76"/><use href="#r14" x="2.51" y="1.93"/><use href="#r14" x="2.67" y="2.07"/></g>
</g></g>
<rect class="sp" width="869" height="543"/>
<text class="t" x="434.5" y="-23.5">Chr 14</text>
<text class="l" x="13" y="27.5">λ=0.773</text><text class="l" x="13" y="69">n=46,872</text>
<text class="xt" y="587"><tspan x="39.5">0</tspan><tspan x="208.6">1</tspan><tspan x="377.8">2</tspan><tspan x="546.9">3</tspan><tspan x="716">4</tspan></text>
<text class="yt"><tspan x="-23" y="528.8">0</tspan><tspan x="-23" y="388.6">1</tspan><tspan x="-23" y="248.3">2</tspan><tspan x="-23" y="108.1">3</tspan></text>
</g>

<!-- Chr 15 -->
<g transform="translate(3907.5,1546)">
<path class="gl" d="M39.5 0V543M211.4 0V543M383.2 0V543M555.1 0V543M726.9 0V543M0 518.3H869M0 382H869M0 245.6H869M0 109.2H869"/>
<g clip-path="url(#ax)">
<line class="dg" x1="-132.4" y1="654.7" x2="2101.8" y2="-1118"/>
<g transform="translate(39.5 518.32) scale(171.86 -136.36)">
<polyline class="gp" points="2.05,1.65 2.34,1.97 2.54,2.09 2.65,2.32 2.85,2.46 3.03,2.57 3.1,2.73 3.18,2.87 3.29,2.95 3.47,2.97 3.65,2.98 3.82,3.03 3.9,3.05"/>
<polyline class="b" points="0,0 0.25,0.24 0.5,0.41 1,0.75 1.5,1.14 2,1.61 2.05,1.65"/>
<polyline class="rb" points="2.05,1.68 2.34,1.97"/>
<path class="gd" d="M3.3 2.95h.001M3.38 2.96h.001M3.47 2.97h.001M3.56 2.97h.001M3.65 2.98h.001M3.74 3.0h.001M3.82 3.03h.001M4.0 3.47h.001M4.13 3.59h.001M4.29 3.62h.001M4.6 3.62h.001"/>
<g class="R"><use href="#r15" x="2.09" y="1.73"/><use href="#r15" x="2.15" y="1.78"/><use href="#r15" x="2.28" y="1.9"/><use href="#r15" x="2.34" y="1.97"/><use href="#r15" x="2.54" y="2.09"/><use href="#r15" x="3.03" y="2.57"/><use href="#r15" x="3.18" y="2.87"/></g>
<g class="O"><use href="#r15" x="2.4" y="2.0"/><use href="#r15" x="2.58" y="2.19"/><use href="#r15" x="2.65" y="2.32"/><use href="#r15" x="2.85" y="2.46"/><use href="#r15" x="3.07" y="2.66"/><use href="#r15" x="3.1" y="2.73"/><use href="#r15" x="3.9" y="3.05"/></g>
<g class="K"><use href="#r15" x="2.21" y="1.83"/><use href="#r15" x="2.45" y="2.04"/><use href="#r15" x="2.6" y="2.22"/><use href="#r15" x="2.72" y="2.38"/></g>
</g></g>
<rect class="sp" width="869" height="543"/>
<text class="t" x="434.5" y="-23.5">Chr 15</text>
<text class="l" x="13" y="27.5">λ=0.802</text><text class="l" x="13" y="69">n=39,507</text>
<text class="xt" y="587"><tspan x="39.5">0</tspan><tspan x="211.4">1</tspan><tspan x="383.2">2</tspan><tspan x="555.1">3</tspan><tspan x="726.9">4</tspan></text>
<text class="yt"><tspan x="-23" y="528.8">0</tspan><tspan x="-23" y="392.5">1</tspan><tspan x="-23" y="256.1">2</tspan><tspan x="-23" y="119.7">3</tspan></text>
</g>

<!-- Chr 16 -->
<g transform="translate(174.7,2233)">
<path class="gl" d="M39.5 0V543M210.7 0V543M381.9 0V543M553.2 0V543M724.4 0V543M0 518.3H869M0 415.9H869M0 313.5H869M0 211.1H869M0 108.6H869M0 6.2H869"/>
<g clip-path="url(#ax)">
<line class="dg" x1="-131.7" y1="620.7" x2="2094.1" y2="-710.7"/>
<g transform="translate(39.5 518.32) scale(171.22 -102.42)">
<polyline class="gp" points="2.11,1.66 2.44,1.95 2.67,2.13 2.85,2.28 2.96,2.44 3.09,2.61 3.31,2.83 3.45,2.91 3.58,2.98 3.67,3.11 3.71,3.2 3.8,3.3"/>
<polyline class="b" points="0,0 0.25,0.27 0.5,0.48 1,0.85 1.5,1.17 2,1.57 2.11,1.66"/>
<path class="gd" d="M3.8 3.3h.001M3.92 3.62h.001M4.32 4.45h.001M4.61 4.82h.001"/>
<g class="R"><use href="#r16" x="2.2" y="1.74"/><use href="#r16" x="2.37" y="1.88"/><use href="#r16" x="2.42" y="1.93"/><use href="#r16" x="2.51" y="2.0"/><use href="#r16" x="3.15" y="2.72"/><use href="#r16" x="3.27" y="2.81"/><use href="#r16" x="4.14" y="4.1"/></g>
<g class="O"><use href="#r16" x="2.31" y="1.83"/><use href="#r16" x="2.58" y="2.05"/><use href="#r16" x="2.76" y="2.22"/><use href="#r16" x="2.85" y="2.28"/><use href="#r16" x="3.09" y="2.61"/><use href="#r16" x="3.31" y="2.83"/><use href="#r16" x="4.02" y="3.84"/></g>
<g class="K"><use href="#r16" x="2.44" y="1.95"/><use href="#r16" x="2.67" y="2.13"/></g>
</g></g>
<rect class="sp" width="869" height="543"/>
<text class="t" x="434.5" y="-23.5">Chr 16</text>
<text class="l" x="13" y="27.5">λ=0.754</text><text class="l" x="13" y="69">n=41,113</text>
<text class="xt" y="587"><tspan x="39.5">0</tspan><tspan x="210.7">1</tspan><tspan x="381.9">2</tspan><tspan x="553.2">3</tspan><tspan x="724.4">4</tspan></text>
<text class="yt"><tspan x="-23" y="528.8">0</tspan><tspan x="-23" y="426.4">1</tspan><tspan x="-23" y="324">2</tspan><tspan x="-23" y="221.6">3</tspan><tspan x="-23" y="119.1">4</tspan><tspan x="-23" y="16.7">5</tspan></text>
</g>

<!-- Chr 17 -->
<g transform="translate(1107.9,2233)">
<path class="gl" d="M39.5 0V543M211.5 0V543M383.6 0V543M555.6 0V543M727.6 0V543M0 518.3H869M0 374.6H869M0 230.9H869M0 87.2H869"/>
<g clip-path="url(#ax)">
<line class="dg" x1="-132.5" y1="590.2" x2="2103.9" y2="-343.9"/>
<g transform="translate(39.5 518.32) scale(172.03 -71.85)">
<polyline class="gp" points="2.32,1.9 2.59,2.04 2.86,2.19 2.97,2.32 3.08,2.42 3.15,2.55 3.26,2.7 3.37,2.84 3.45,3.12 3.59,3.25 3.74,3.53"/>
<polyline class="b" points="0,0 0.25,0.25 0.5,0.46 1,0.87 1.5,1.25 2,1.62 2.32,1.9"/>
<path class="gd" d="M3.74 3.53h.001M3.83 3.75h.001M3.92 3.85h.001M3.99 3.96h.001M4.12 4.07h.001M4.29 6.02h.001M4.59 6.87h.001"/>
<g class="R"><use href="#r17" x="2.42" y="1.96"/><use href="#r17" x="2.46" y="2.0"/><use href="#r17" x="2.64" y="2.08"/><use href="#r17" x="2.7" y="2.1"/><use href="#r17" x="2.75" y="2.14"/><use href="#r17" x="2.86" y="2.19"/><use href="#r17" x="2.9" y="2.26"/><use href="#r17" x="3.0" y="2.33"/><use href="#r17" x="3.15" y="2.55"/><use href="#r17" x="3.37" y="2.84"/></g>
<g class="O"><use href="#r17" x="2.53" y="2.02"/><use href="#r17" x="2.59" y="2.04"/><use href="#r17" x="2.97" y="2.32"/><use href="#r17" x="3.45" y="3.12"/><use href="#r17" x="3.59" y="3.25"/></g>
<g class="K"><use href="#r17" x="2.37" y="1.91"/></g>
</g></g>
<rect class="sp" width="869" height="543"/>
<text class="t" x="434.5" y="-23.5">Chr 17</text>
<text class="l" x="13" y="27.5">λ=0.812</text><text class="l" x="13" y="69">n=39,108</text>
<text class="xt" y="587"><tspan x="39.5">0</tspan><tspan x="211.5">1</tspan><tspan x="383.6">2</tspan><tspan x="555.6">3</tspan><tspan x="727.6">4</tspan></text>
<text class="yt"><tspan x="-23" y="528.8">0</tspan><tspan x="-23" y="385.1">2</tspan><tspan x="-23" y="241.4">4</tspan><tspan x="-23" y="97.7">6</tspan></text>
</g>

<!-- Chr 18 -->
<g transform="translate(2041.1,2233)">
<path class="gl" d="M39.5 0V543M209.4 0V543M379.2 0V543M549.1 0V543M719 0V543M0 518.3H869M0 379.7H869M0 241H869M0 102.3H869"/>
<g clip-path="url(#ax)">
<line class="dg" x1="-130.4" y1="657" x2="2077.9" y2="-1145.6"/>
<g transform="translate(39.5 518.32) scale(169.87 -138.66)">
<polyline class="gp" points="2.14,1.57 2.41,1.78 2.72,2.05 2.92,2.25 3.04,2.38 3.24,2.49 3.46,2.65 3.58,2.7 3.7,2.8 3.85,2.84 3.96,2.86"/>
<polyline class="b" points="0,0 0.25,0.24 0.5,0.44 1,0.87 1.5,1.19 1.89,1.4 2.07,1.51 2.14,1.57"/>
<polyline class="rb" points="2.16,1.59 2.3,1.69"/>
<path class="gd" d="M3.85 2.84h.001M3.96 2.86h.001M4.05 2.97h.001M4.18 3.35h.001M4.36 3.42h.001M4.65 3.56h.001"/>
<g class="R"><use href="#r18" x="2.21" y="1.61"/><use href="#r18" x="2.36" y="1.74"/><use href="#r18" x="2.48" y="1.83"/><use href="#r18" x="2.59" y="1.95"/><use href="#r18" x="2.65" y="1.99"/><use href="#r18" x="2.9" y="2.22"/><use href="#r18" x="3.24" y="2.49"/><use href="#r18" x="3.35" y="2.57"/><use href="#r18" x="3.7" y="2.8"/></g>
<g class="O"><use href="#r18" x="3.04" y="2.38"/><use href="#r18" x="3.1" y="2.41"/><use href="#r18" x="3.31" y="2.54"/><use href="#r18" x="3.58" y="2.7"/></g>
<g class="K"><use href="#r18" x="2.3" y="1.69"/><use href="#r18" x="2.41" y="1.78"/><use href="#r18" x="2.54" y="1.88"/><use href="#r18" x="2.72" y="2.05"/><use href="#r18" x="2.92" y="2.25"/></g>
</g></g>
<rect class="sp" width="869" height="543"/>
<text class="t" x="434.5" y="-23.5">Chr 18</text>
<text class="l" x="13" y="27.5">λ=0.763</text><text class="l" x="13" y="69">n=44,738</text>
<text class="xt" y="587"><tspan x="39.5">0</tspan><tspan x="209.4">1</tspan><tspan x="379.2">2</tspan><tspan x="549.1">3</tspan><tspan x="719">4</tspan></text>
<text class="yt"><tspan x="-23" y="528.8">0</tspan><tspan x="-23" y="390.2">1</tspan><tspan x="-23" y="251.5">2</tspan><tspan x="-23" y="112.8">3</tspan></text>
</g>

<!-- Chr 19 -->
<g transform="translate(2974.3,2233)">
<path class="gl" d="M39.5 0V543M218.3 0V543M397.1 0V543M576 0V543M754.8 0V543M0 518.3H869M0 402.2H869M0 286H869M0 169.9H869M0 53.7H869"/>
<g clip-path="url(#ax)">
<line class="dg" x1="-139.3" y1="634.5" x2="2185.3" y2="-875.5"/>
<g transform="translate(39.5 518.32) scale(178.82 -116.15)">
<polyline class="gp" points="2.02,1.49 2.23,1.64 2.48,1.81 2.69,2.02 2.86,2.17 3.01,2.3 3.16,2.38 3.29,2.48 3.35,2.62 3.42,2.82 3.49,3.03 3.57,3.23"/>
<polyline class="b" points="0,0 0.25,0.27 0.5,0.46 0.75,0.57 1,0.68 1.5,1.06 2,1.46 2.02,1.49"/>
<polyline class="rb" points="2.02,1.5 2.15,1.56"/>
<path class="gd" d="M3.73 3.34h.001M3.93 3.66h.001M4.12 3.89h.001M4.42 4.25h.001"/>
<g class="R"><use href="#r19" x="2.05" y="1.5"/><use href="#r19" x="2.1" y="1.53"/><use href="#r19" x="2.14" y="1.55"/><use href="#r19" x="2.4" y="1.75"/><use href="#r19" x="2.57" y="1.9"/><use href="#r19" x="3.01" y="2.3"/></g>
<g class="O"><use href="#r19" x="2.3" y="1.68"/><use href="#r19" x="2.92" y="2.19"/><use href="#r19" x="3.57" y="3.23"/><use href="#r19" x="3.64" y="3.26"/><use href="#r19" x="3.82" y="3.59"/></g>
<g class="K"><use href="#r19" x="2.23" y="1.64"/><use href="#r19" x="2.35" y="1.73"/><use href="#r19" x="2.48" y="1.81"/><use href="#r19" x="2.69" y="2.02"/><use href="#r19" x="2.8" y="2.13"/><use href="#r19" x="2.86" y="2.17"/></g>
</g></g>
<rect class="sp" width="869" height="543"/>
<text class="t" x="434.5" y="-23.5">Chr 19</text>
<text class="l" x="13" y="27.5">λ=0.78</text><text class="l" x="13" y="69">n=26,176</text>
<text class="xt" y="587"><tspan x="39.5">0</tspan><tspan x="218.3">1</tspan><tspan x="397.1">2</tspan><tspan x="576">3</tspan><tspan x="754.8">4</tspan></text>
<text class="yt"><tspan x="-23" y="528.8">0</tspan><tspan x="-23" y="412.7">1</tspan><tspan x="-23" y="296.5">2</tspan><tspan x="-23" y="180.4">3</tspan><tspan x="-23" y="64.2">4</tspan></text>
</g>

<!-- Chr 20 -->
<g transform="translate(3907.5,2233)">
<path class="gl" d="M39.5 0V543M202.7 0V543M365.9 0V543M529.1 0V543M692.3 0V543M855.5 0V543M0 518.3H869M0 417.2H869M0 316H869M0 214.8H869M0 113.7H869M0 12.5H869"/>
<g clip-path="url(#ax)">
<line class="dg" x1="-123.7" y1="619.5" x2="1997.8" y2="-695.6"/>
<g transform="translate(39.5 518.32) scale(163.19 -101.16)">
<polyline class="gp" points="2.2,1.68 2.49,1.92 2.75,2.14 3.0,2.38 3.19,2.58 3.37,2.84 3.51,2.98 3.75,3.2 3.84,3.24 4.0,3.32 4.12,3.35 4.24,3.44"/>
<polyline class="b" points="0,0 0.25,0.26 0.5,0.46 1,0.79 1.5,1.15 2,1.55 2.2,1.68"/>
<polyline class="rb" points="2.55,1.97 2.78,2.15"/>
<polyline class="ob" points="3.0,2.38 3.12,2.5"/>
<path class="gd" d="M4.24 3.44h.001M4.36 3.53h.001M4.54 3.82h.001M4.84 4.88h.001"/>
<g class="R"><use href="#r20" x="2.25" y="1.72"/><use href="#r20" x="2.58" y="1.98"/><use href="#r20" x="2.67" y="2.05"/><use href="#r20" x="2.75" y="2.14"/><use href="#r20" x="3.26" y="2.7"/></g>
<g class="O"><use href="#r20" x="2.35" y="1.8"/><use href="#r20" x="3.0" y="2.38"/><use href="#r20" x="3.05" y="2.43"/><use href="#r20" x="3.09" y="2.47"/><use href="#r20" x="3.19" y="2.58"/><use href="#r20" x="3.37" y="2.84"/><use href="#r20" x="3.41" y="2.88"/><use href="#r20" x="3.56" y="3.02"/><use href="#r20" x="4.0" y="3.32"/></g>
<g class="K"><use href="#r20" x="2.3" y="1.79"/><use href="#r20" x="2.44" y="1.88"/><use href="#r20" x="2.49" y="1.92"/><use href="#r20" x="2.88" y="2.25"/></g>
</g></g>
<rect class="sp" width="869" height="543"/>
<text class="t" x="434.5" y="-23.5">Chr 20</text>
<text class="l" x="13" y="27.5">λ=0.792</text><text class="l" x="13" y="69">n=69,322</text>
<text class="xt" y="587"><tspan x="39.5">0</tspan><tspan x="202.7">1</tspan><tspan x="365.9">2</tspan><tspan x="529.1">3</tspan><tspan x="692.3">4</tspan><tspan x="855.5">5</tspan></text>
<text class="yt"><tspan x="-23" y="528.8">0</tspan><tspan x="-23" y="427.7">1</tspan><tspan x="-23" y="326.5">2</tspan><tspan x="-23" y="225.3">3</tspan><tspan x="-23" y="124.2">4</tspan><tspan x="-23" y="23">5</tspan></text>
</g>

<!-- Chr 21 -->
<g transform="translate(174.7,2920)">
<path class="gl" d="M39.5 0V543M223.1 0V543M406.8 0V543M590.4 0V543M774.1 0V543M0 518.3H869M0 390.4H869M0 262.5H869M0 134.6H869M0 6.8H869"/>
<g clip-path="url(#ax)">
<line class="dg" x1="-144.1" y1="646.2" x2="2243.2" y2="-1016.4"/>
<g transform="translate(39.5 518.32) scale(183.64 -127.89)">
<polyline class="gp" points="1.96,1.49 2.17,1.58 2.44,1.74 2.67,1.91 2.92,2.08 3.05,2.24 3.17,2.29 3.29,2.34 3.4,2.52 3.46,2.63"/>
<polyline class="b" points="0,0 0.25,0.24 0.5,0.42 1,0.76 1.5,1.13 1.8,1.36 1.96,1.49"/>
<polyline class="rb" points="2.2,1.6 2.38,1.71"/>
<path class="gd" d="M3.53 3.0h.001M3.6 3.19h.001M3.71 3.37h.001M3.82 3.37h.001M4.0 3.42h.001M4.3 3.86h.001"/>
<g class="R"><use href="#r21" x="2.0" y="1.49"/><use href="#r21" x="2.06" y="1.5"/><use href="#r21" x="2.25" y="1.62"/><use href="#r21" x="2.34" y="1.69"/><use href="#r21" x="2.75" y="1.94"/><use href="#r21" x="2.84" y="2.03"/><use href="#r21" x="2.88" y="2.05"/><use href="#r21" x="2.92" y="2.08"/></g>
<g class="O"><use href="#r21" x="2.56" y="1.87"/><use href="#r21" x="2.67" y="1.91"/><use href="#r21" x="3.29" y="2.34"/><use href="#r21" x="3.4" y="2.52"/><use href="#r21" x="3.46" y="2.63"/></g>
<g class="K"><use href="#r21" x="2.11" y="1.52"/><use href="#r21" x="2.17" y="1.58"/><use href="#r21" x="2.44" y="1.74"/><use href="#r21" x="2.49" y="1.79"/><use href="#r21" x="2.55" y="1.85"/></g>
</g></g>
<rect class="sp" width="869" height="543"/>
<text class="t" x="434.5" y="-23.5">Chr 21</text>
<text class="l" x="13" y="27.5">λ=0.709</text><text class="l" x="13" y="69">n=20,037</text>
<text class="xt" y="587"><tspan x="39.5">0</tspan><tspan x="223.1">1</tspan><tspan x="406.8">2</tspan><tspan x="590.4">3</tspan><tspan x="774.1">4</tspan></text>
<text class="yt"><tspan x="-23" y="528.8">0</tspan><tspan x="-23" y="400.9">1</tspan><tspan x="-23" y="273">2</tspan><tspan x="-23" y="145.1">3</tspan><tspan x="-23" y="17.3">4</tspan></text>
</g>

<!-- Chr 22 -->
<g transform="translate(1107.9,2920)">
<path class="gl" d="M39.5 0V543M223.1 0V543M406.8 0V543M590.4 0V543M774 0V543M0 518.3H869M0 355.9H869M0 193.6H869M0 31.2H869"/>
<g clip-path="url(#ax)">
<line class="dg" x1="-144.1" y1="680.7" x2="2243.1" y2="-1430.2"/>
<g transform="translate(39.5 518.32) scale(183.63 -162.38)">
<polyline class="gp" points="2.22,1.59 2.42,1.77 2.53,1.86 2.63,1.96 2.74,2.06 2.88,2.16 2.99,2.23 3.06,2.27 3.17,2.33 3.34,2.45 3.52,2.51 3.68,2.59"/>
<polyline class="b" points="0,0 0.25,0.26 0.5,0.46 1,0.76 1.5,1.11 2,1.42 2.22,1.59"/>
<polyline class="rb" points="2.24,1.61 2.36,1.72"/>
<path class="gd" d="M3.68 2.59h.001M3.83 2.75h.001M4.0 2.75h.001M4.3 3.04h.001"/>
<g class="R"><use href="#r22" x="2.26" y="1.63"/><use href="#r22" x="2.3" y="1.67"/><use href="#r22" x="2.34" y="1.71"/><use href="#r22" x="2.74" y="2.06"/><use href="#r22" x="3.52" y="2.51"/></g>
<g class="O"><use href="#r22" x="2.49" y="1.81"/><use href="#r22" x="2.53" y="1.86"/><use href="#r22" x="2.8" y="2.1"/><use href="#r22" x="2.99" y="2.23"/><use href="#r22" x="3.06" y="2.27"/></g>
<g class="K"><use href="#r22" x="2.42" y="1.77"/></g>
</g></g>
<rect class="sp" width="869" height="543"/>
<text class="t" x="434.5" y="-23.5">Chr 22</text>
<text class="l" x="13" y="27.5">λ=0.763</text><text class="l" x="13" y="69">n=20,050</text>
<text class="xt" y="587"><tspan x="39.5">0</tspan><tspan x="223.1">1</tspan><tspan x="406.8">2</tspan><tspan x="590.4">3</tspan><tspan x="774">4</tspan></text>
<text class="yt"><tspan x="-23" y="528.8">0</tspan><tspan x="-23" y="366.4">1</tspan><tspan x="-23" y="204.1">2</tspan><tspan x="-23" y="41.7">3</tspan></text>
</g>

<!-- Chr X -->
<g transform="translate(2041.1,2920)">
<path class="gl" d="M39.5 0V543M212.9 0V543M386.2 0V543M559.6 0V543M732.9 0V543M0 518.3H869M0 387.4H869M0 256.4H869M0 125.5H869"/>
<g clip-path="url(#ax)">
<line class="dg" x1="-133.9" y1="649.3" x2="2119.7" y2="-1053"/>
<g transform="translate(39.5 518.32) scale(173.35 -130.94)">
<polyline class="gp" points="2.33,1.92 2.5,2.07 2.8,2.22 2.95,2.31 3.1,2.53 3.21,2.6 3.36,2.77 3.45,2.89 3.55,2.99 3.79,3.09 3.96,3.29"/>
<polyline class="b" points="0,0 0.15,0.2 0.3,0.31 0.5,0.42 1,0.69 1.5,1.05 1.84,1.33 2.02,1.51 2.15,1.66 2.28,1.87 2.33,1.92"/>
<path class="gd" d="M3.87 3.12h.001M3.96 3.29h.001M4.56 3.77h.001"/>
<g class="R"><use href="#r23" x="2.45" y="2.02"/><use href="#r23" x="2.56" y="2.1"/><use href="#r23" x="2.95" y="2.31"/><use href="#r23" x="3.55" y="2.99"/></g>
<g class="O"><use href="#r23" x="3.04" y="2.41"/><use href="#r23" x="3.07" y="2.45"/><use href="#r23" x="3.1" y="2.53"/><use href="#r23" x="3.3" y="2.65"/><use href="#r23" x="3.36" y="2.77"/></g>
<g class="K"><use href="#r23" x="2.4" y="1.97"/><use href="#r23" x="2.5" y="2.07"/><use href="#r23" x="2.64" y="2.14"/><use href="#r23" x="2.73" y="2.17"/><use href="#r23" x="2.8" y="2.22"/><use href="#r23" x="3.61" y="3.04"/><use href="#r23" x="3.79" y="3.09"/><use href="#r23" x="4.09" y="3.32"/><use href="#r23" x="4.26" y="3.35"/></g>
</g></g>
<rect class="sp" width="869" height="543"/>
<text class="t" x="434.5" y="-23.5">Chr X</text>
<text class="l" x="13" y="27.5">λ=0.888</text><text class="l" x="13" y="69">n=36,089</text>
<text class="xt" y="587"><tspan x="39.5">0</tspan><tspan x="212.9">1</tspan><tspan x="386.2">2</tspan><tspan x="559.6">3</tspan><tspan x="732.9">4</tspan></text>
<text class="yt"><tspan x="-23" y="528.8">0</tspan><tspan x="-23" y="397.9">1</tspan><tspan x="-23" y="266.9">2</tspan><tspan x="-23" y="136">3</tspan></text>
</g>

</svg>
</body></html>
